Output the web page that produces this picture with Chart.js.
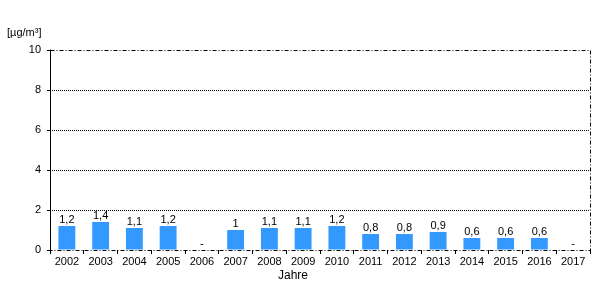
<!DOCTYPE html>
<html>
<head>
<meta charset="utf-8">
<script src="https://cdn.jsdelivr.net/npm/chart.js@4/dist/chart.umd.min.js"></script>
<style>
  html, body { margin: 0; padding: 0; background: #fff; }
  #wrap { width: 600px; height: 300px; }
</style>
</head>
<body>
<div id="wrap"><canvas id="grafico" width="600" height="300"></canvas></div>
<script>
const jahre = ['2002','2003','2004','2005','2006','2007','2008','2009','2010','2011','2012','2013','2014','2015','2016','2017'];
const werte = [1.2, 1.4, 1.1, 1.2, null, 1.0, 1.1, 1.1, 1.2, 0.8, 0.8, 0.9, 0.6, 0.6, 0.6, null];
const yTicks = [0, 2, 4, 6, 8, 10];
const einheit = '[µg/m³]';
const achsenTitel = 'Jahre';

const schrift = 'Arial, "Liberation Sans", sans-serif';

// Rahmen, Gitterlinien, Beschriftungen
const rahmen = {
  id: 'rahmen',
  beforeDatasetsDraw(chart) {
    const { ctx, chartArea: a, scales: { y } } = chart;
    ctx.save();
    ctx.strokeStyle = '#000';
    ctx.lineWidth = 1;
    ctx.setLineDash([1, 1]);
    yTicks.forEach(v => {
      if (v === 0 || v === 10) return;
      const py = Math.round(y.getPixelForValue(v)) + 0.5;
      ctx.beginPath(); ctx.moveTo(a.left, py); ctx.lineTo(a.right, py); ctx.stroke();
    });
    ctx.restore();
  },
  afterDraw(chart) {
    const { ctx, chartArea: a, scales: { x, y } } = chart;
    ctx.save();
    ctx.strokeStyle = '#000';
    ctx.lineWidth = 1;
    const top = Math.round(a.top) + 0.5, bot = Math.round(a.bottom) + 0.5;
    const l = Math.round(a.left) + 0.5, r = Math.round(a.right) + 0.5;
    ctx.setLineDash([4, 2, 1, 2]);
    ctx.beginPath();
    ctx.moveTo(l, top); ctx.lineTo(r, top); ctx.lineTo(r, bot); ctx.lineTo(l, bot);
    ctx.stroke();
    ctx.setLineDash([]);
    ctx.beginPath(); ctx.moveTo(l, top - 1); ctx.lineTo(l, bot); ctx.stroke();

    // Werte über den Balken
    ctx.fillStyle = '#000';
    ctx.font = '11px ' + schrift;
    ctx.textAlign = 'center';
    ctx.textBaseline = 'bottom';
    const meta = chart.getDatasetMeta(0);
    werte.forEach((v, i) => {
      const px = x.getPixelForValue(i);
      if (v === null) {
        ctx.fillText('-', px, y.getPixelForValue(0) - 1);
      } else {
        const txt = String(v).replace('.', ',');
        ctx.fillText(txt, meta.data[i].x, meta.data[i].y - 1);
      }
    });

    // Einheit und Achsentitel
    ctx.textAlign = 'left';
    ctx.textBaseline = 'middle';
    ctx.font = '11px ' + schrift;
    ctx.fillText(einheit, 7, 33);
    ctx.textAlign = 'center';
    ctx.font = '12px ' + schrift;
    ctx.fillText(achsenTitel, 293, 276);
    ctx.restore();
  }
};

new Chart(document.getElementById('grafico').getContext('2d'), {
  type: 'bar',
  data: {
    labels: jahre,
    datasets: [{
      data: werte,
      backgroundColor: '#3399ff',
      borderWidth: 0,
      barPercentage: 0.5,
      categoryPercentage: 1
    }]
  },
  options: {
    responsive: false,
    animation: false,
    layout: { padding: { top: 50, right: 10, left: 0, bottom: 0 } },
    plugins: { legend: { display: false }, tooltip: { enabled: false }, title: { display: false } },
    scales: {
      x: {
        offset: true,
        grid: { display: true, offset: true, drawOnChartArea: false, drawTicks: true, tickLength: 4, color: '#000' },
        border: { display: false },
        ticks: { color: '#000', font: { size: 11, family: schrift }, padding: 1, maxRotation: 0, autoSkip: false },
        afterFit(s) { s.height = 50; }
      },
      y: {
        min: 0,
        max: 10,
        afterBuildTicks(s) { s.ticks = yTicks.map(v => ({ value: v })); },
        grid: { drawOnChartArea: false, drawTicks: true, tickLength: 3, color: '#000' },
        border: { display: false },
        ticks: { color: '#000', font: { size: 11, family: schrift }, padding: 6 },
        afterFit(s) { s.width = 50; }
      }
    }
  },
  plugins: [rahmen]
});
</script>
</body>
</html>
